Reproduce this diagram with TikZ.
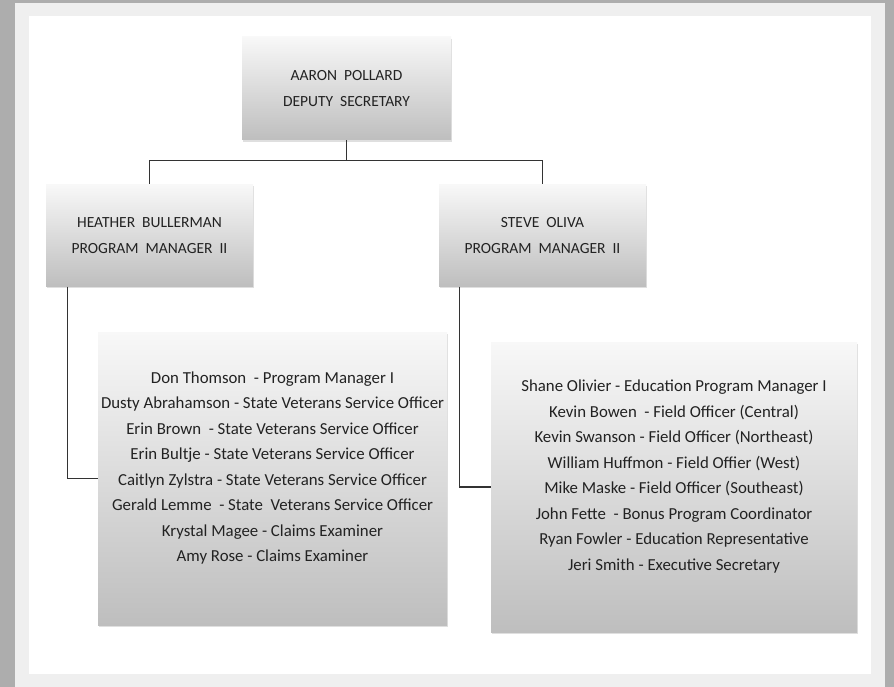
\documentclass[tikz,border=0pt]{standalone}
\usepackage{fontspec}
\setmainfont{Carlito}
\usepackage{tikz}
\usetikzlibrary{shadows}
\definecolor{backgray}{HTML}{ADADAD}
\definecolor{framegray}{HTML}{EFEFEF}
\definecolor{linegray}{HTML}{333333}
\definecolor{inkgray}{HTML}{222222}
\definecolor{boxtop}{HTML}{F8F8F8}
\definecolor{boxbottom}{HTML}{BEBEBE}

\begin{document}
\begin{tikzpicture}[x=1pt, y=-1pt,
  box/.style={rectangle, top color=boxtop, bottom color=boxbottom,
    drop shadow={shadow xshift=1.2pt, shadow yshift=-1.8pt, opacity=0.25},
    text=inkgray, align=center, inner sep=0pt},
  heads/.style={text=inkgray, align=center,
    font={\fontsize{15.5pt}{25.8pt}\selectfont}},
  names/.style={text=inkgray, align=center,
    font={\fontsize{16.8pt}{25.5pt}\selectfont}},
  link/.style={draw=linegray, line width=1.3pt}]
  \useasboundingbox (0,0) rectangle (894,687);
  \fill[backgray] (0,0) rectangle (894,687);
  \fill[framegray] (15,3) rectangle (885,687);
  \fill[white] (29,16) rectangle (871,674);

  \node[box, heads, minimum width=209pt, minimum height=103pt] (pollard) at (346.5,88.5)
    {AARON~~POLLARD\\DEPUTY~~SECRETARY};
  \node[box, heads, minimum width=207pt, minimum height=102pt] (bullerman) at (149.5,235.5)
    {HEATHER~~BULLERMAN\\PROGRAM~~MANAGER~~II};
  \node[box, heads, minimum width=207pt, minimum height=102pt] (oliva) at (542.5,235.5)
    {STEVE~~OLIVA\\PROGRAM~~MANAGER~~II};
  \node[box, minimum width=349pt, minimum height=293pt] (staffL) at (272.5,478.5) {};
  \node[box, minimum width=366pt, minimum height=290pt] (staffR) at (674,487) {};

  \node[names] (listL) at (272.5,468) {Don Thomson~ - Program Manager I\\
    Dusty Abrahamson - State Veterans Service Officer\\
    Erin Brown~ - State Veterans Service Officer\\
    Erin Bultje - State Veterans Service Officer\\
    Caitlyn Zylstra - State Veterans Service Officer\\
    Gerald Lemme~ - State~ Veterans Service Officer\\
    Krystal Magee - Claims Examiner\\
    Amy Rose - Claims Examiner};
  \node[names] (listR) at (674,476.5) {Shane Olivier - Education Program Manager I\\
    Kevin Bowen~ - Field Officer (Central)\\
    Kevin Swanson - Field Officer (Northeast)\\
    William Huffmon - Field Offier (West)\\
    Mike Maske - Field Officer (Southeast)\\
    John Fette~ - Bonus Program Coordinator\\
    Ryan Fowler - Education Representative\\
    Jeri Smith - Executive Secretary};

  \draw[link] (pollard.south) -- ++(0,20) -| (bullerman.north);
  \draw[link] (pollard.south) -- ++(0,20) -| (oliva.north);
  \draw[link] ([xshift=22pt]bullerman.south west) |- (staffL.west);
  \draw[link] ([xshift=21pt]oliva.south west) |- (staffR.west);
\end{tikzpicture}
\end{document}
